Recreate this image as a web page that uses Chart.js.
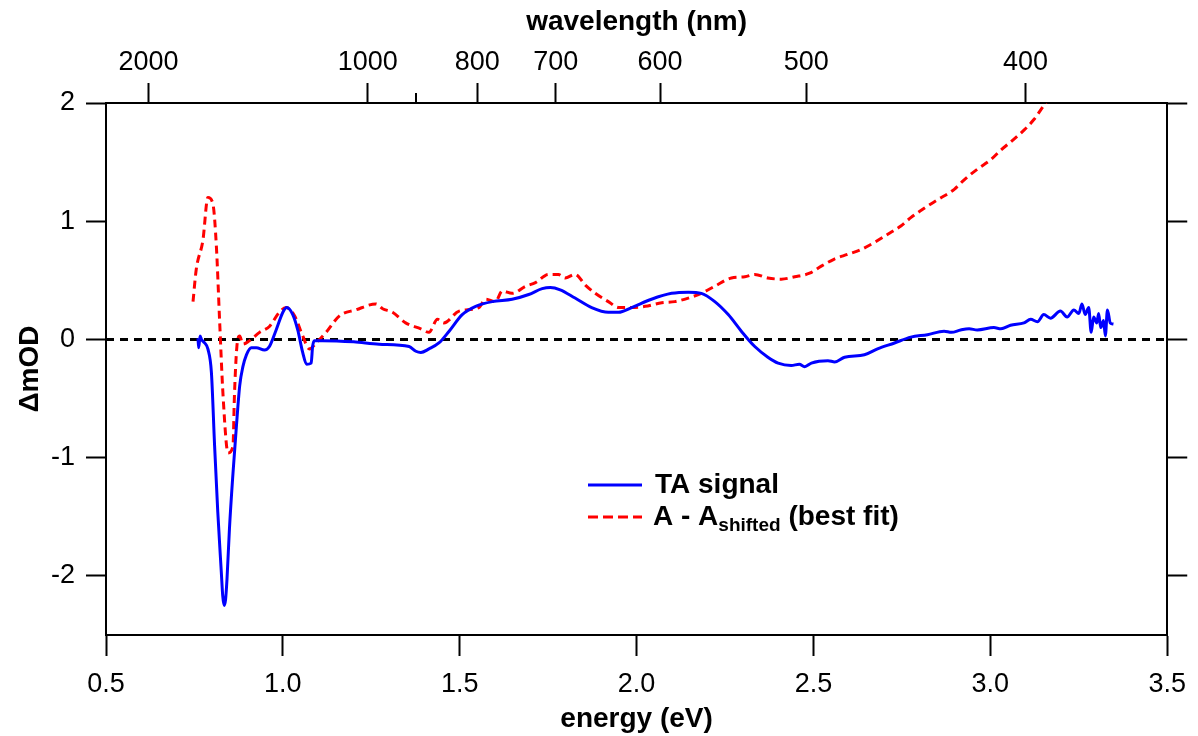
<!DOCTYPE html>
<html>
<head>
<meta charset="utf-8">
<script src="https://cdn.jsdelivr.net/npm/chart.js@4.4.0/dist/chart.umd.min.js"></script>
<style>
  html, body { margin: 0; padding: 0; background: #ffffff; }
  #chart { display: block; }
</style>
</head>
<body>
<canvas id="chart" width="1198" height="736"></canvas>
<script>
// TA signal (blue, solid)
const taEnergy = [0.760, 0.762, 0.766, 0.770, 0.779, 0.788, 0.798, 0.807, 0.816, 0.826, 0.830, 0.834, 0.838, 0.842, 0.849, 0.859, 0.868,
    0.878, 0.887, 0.897, 0.911, 0.925, 0.948, 0.962, 0.981, 1.000, 1.011, 1.028, 1.042, 1.056, 1.067, 1.080,
    1.084, 1.089, 1.112, 1.200, 1.272, 1.357, 1.376, 1.390, 1.413, 1.441, 1.470, 1.507, 1.545, 1.592, 1.648,
    1.695, 1.733, 1.756, 1.784, 1.826, 1.873, 1.920, 1.949, 1.986, 2.042, 2.099, 2.146, 2.183, 2.221, 2.259,
    2.296, 2.334, 2.371, 2.400, 2.437, 2.460, 2.475, 2.494, 2.541, 2.560, 2.588, 2.644, 2.681, 2.729, 2.775,
    2.822, 2.869, 2.890, 2.916, 2.940, 2.963, 3.010, 3.030, 3.057, 3.095, 3.114, 3.133, 3.151, 3.170, 3.198,
    3.217, 3.236, 3.250, 3.259, 3.268, 3.278, 3.285, 3.292, 3.301, 3.306, 3.312, 3.320, 3.325, 3.331, 3.339,
    3.348];
const taSignal = [0.01, -0.07, 0.03, 0.00, -0.03, -0.08, -0.28, -0.90, -1.46, -1.97, -2.17, -2.25, -2.20, -2.03, -1.60, -1.13, -0.76,
    -0.39, -0.23, -0.13, -0.07, -0.07, -0.09, -0.06, 0.08, 0.23, 0.27, 0.21, 0.08, -0.11, -0.21, -0.20,
    -0.06, -0.01, -0.01, -0.02, -0.04, -0.06, -0.10, -0.11, -0.08, -0.03, 0.07, 0.21, 0.28, 0.32, 0.34,
    0.38, 0.43, 0.44, 0.42, 0.35, 0.27, 0.23, 0.23, 0.27, 0.34, 0.39, 0.40, 0.39, 0.32, 0.21,
    0.07, -0.06, -0.15, -0.20, -0.22, -0.21, -0.23, -0.20, -0.18, -0.19, -0.15, -0.13, -0.08, -0.03, 0.02,
    0.04, 0.07, 0.06, 0.08, 0.09, 0.08, 0.10, 0.09, 0.12, 0.14, 0.17, 0.15, 0.21, 0.18, 0.24,
    0.19, 0.25, 0.22, 0.30, 0.21, 0.27, 0.06, 0.19, 0.14, 0.22, 0.10, 0.16, 0.03, 0.25, 0.14,
    0.13];

// A - A_shifted best fit (red, dashed)
const fitEnergy = [0.746, 0.755, 0.774, 0.788, 0.802, 0.812, 0.821, 0.831, 0.845, 0.859, 0.863, 0.870, 0.878, 0.887, 0.906,
    0.934, 0.962, 0.990, 1.009, 1.033, 1.056, 1.075, 1.094, 1.122, 1.160, 1.206, 1.263, 1.282, 1.310, 1.347,
    1.390, 1.413, 1.437, 1.455, 1.498, 1.554, 1.573, 1.601, 1.620, 1.648, 1.686, 1.714, 1.751, 1.779, 1.798,
    1.826, 1.855, 1.883, 1.920, 1.949, 1.986, 2.024, 2.071, 2.108, 2.146, 2.183, 2.221, 2.268, 2.306, 2.334,
    2.371, 2.409, 2.447, 2.489, 2.522, 2.559, 2.597, 2.634, 2.672, 2.710, 2.747, 2.775, 2.813, 2.850, 2.898,
    2.926, 2.963, 3.001, 3.029, 3.057, 3.095, 3.123, 3.142, 3.156, 3.170];
const fitSignal = [0.32, 0.59, 0.84, 1.20, 1.15, 0.79, 0.17, -0.48, -0.96, -0.90, -0.48, -0.06, 0.03, -0.04, -0.01,
    0.06, 0.11, 0.23, 0.27, 0.20, 0.03, -0.08, -0.03, 0.06, 0.20, 0.25, 0.30, 0.26, 0.23, 0.14,
    0.09, 0.06, 0.17, 0.14, 0.24, 0.27, 0.34, 0.32, 0.41, 0.39, 0.45, 0.48, 0.55, 0.55, 0.52,
    0.55, 0.46, 0.39, 0.32, 0.27, 0.27, 0.28, 0.31, 0.32, 0.35, 0.39, 0.45, 0.52, 0.53, 0.55,
    0.52, 0.51, 0.53, 0.56, 0.62, 0.68, 0.72, 0.76, 0.82, 0.89, 0.96, 1.03, 1.11, 1.18, 1.27,
    1.35, 1.44, 1.52, 1.60, 1.67, 1.77, 1.86, 1.94, 2.00, 2.08];

// zero reference line
const zeroEnergy = [0.5, 3.5];
const zeroSignal = [0, 0];

// axis ticks
const energyTicks = [0.5, 1.0, 1.5, 2.0, 2.5, 3.0, 3.5];
const signalTicks = [-2, -1, 0, 1, 2];
const wavelengthTicks = [2000, 1000, 800, 700, 600, 500, 400];
const wavelengthMinor = [900];

const legendLabels = ['TA signal', 'A - A', 'shifted', ' (best fit)'];

const HC = 1239.84; // eV*nm
const FONT = '"Liberation Sans", Arial, Helvetica, sans-serif';

function toPoints(xs, ys) {
    return xs.map((x, i) => ({ x: x, y: ys[i] }));
}

const tickFont = { family: FONT, size: 27 };
const titleFont = { family: FONT, size: 28, weight: 'bold' };

function axisGrid(len) {
    return {
        drawOnChartArea: false,
        drawTicks: true,
        tickLength: len,
        tickWidth: 2,
        tickColor: '#000',
        color: '#000'
    };
}
const axisBorder = { display: true, color: '#000', width: 2 };

// minor tick on the wavelength axis + custom legend
const extrasPlugin = {
    id: 'extras',
    afterDraw(chart) {
        const ctx = chart.ctx;
        const top = chart.scales.xTop;
        ctx.save();
        ctx.strokeStyle = '#000';
        ctx.lineWidth = 2;
        wavelengthMinor.forEach(w => {
            const px = Math.round(top.getPixelForValue(HC / w));
            ctx.beginPath();
            ctx.moveTo(px, top.bottom);
            ctx.lineTo(px, top.bottom - 10);
            ctx.stroke();
        });

        // legend
        const lx = 588, ly1 = 485, ly2 = 517;
        ctx.lineWidth = 3;
        ctx.strokeStyle = '#0000ff';
        ctx.beginPath();
        ctx.moveTo(lx, ly1);
        ctx.lineTo(lx + 54, ly1);
        ctx.stroke();
        ctx.strokeStyle = '#ff0000';
        ctx.setLineDash([10, 5]);
        ctx.beginPath();
        ctx.moveTo(lx, ly2);
        ctx.lineTo(lx + 54, ly2);
        ctx.stroke();
        ctx.setLineDash([]);

        ctx.fillStyle = '#000';
        ctx.textBaseline = 'middle';
        ctx.textAlign = 'left';
        ctx.font = 'bold 28px ' + FONT;
        ctx.fillText(legendLabels[0], 655, ly1);
        let tx = 653;
        ctx.fillText(legendLabels[1], tx, ly2);
        tx += ctx.measureText(legendLabels[1]).width;
        ctx.font = 'bold 19px ' + FONT;
        ctx.fillText(legendLabels[2], tx, ly2 + 9);
        tx += ctx.measureText(legendLabels[2]).width;
        ctx.font = 'bold 28px ' + FONT;
        ctx.fillText(legendLabels[3], tx, ly2);
        ctx.restore();
    }
};

new Chart(document.getElementById('chart'), {
    type: 'line',
    data: {
        datasets: [
            {
                label: 'TA signal',
                data: toPoints(taEnergy, taSignal),
                borderColor: '#0000ff',
                borderWidth: 3,
                pointRadius: 0,
                cubicInterpolationMode: 'monotone',
                order: 0
            },
            {
                label: 'A - Ashifted (best fit)',
                data: toPoints(fitEnergy, fitSignal),
                borderColor: '#ff0000',
                borderWidth: 3,
                borderDash: [8, 5],
                pointRadius: 0,
                cubicInterpolationMode: 'monotone',
                order: 1
            },
            {
                label: 'zero',
                data: toPoints(zeroEnergy, zeroSignal),
                borderColor: '#000',
                borderWidth: 3,
                borderDash: [8, 6],
                pointRadius: 0,
                order: 2
            }
        ]
    },
    options: {
        responsive: false,
        devicePixelRatio: 1,
        animation: false,
        layout: { padding: 0 },
        plugins: {
            legend: { display: false },
            tooltip: { enabled: false }
        },
        scales: {
            x: {
                type: 'linear',
                position: 'bottom',
                min: 0.5,
                max: 3.5,
                afterBuildTicks: s => { s.ticks = energyTicks.map(v => ({ value: v })); },
                afterFit: s => { s.height = 101; },
                ticks: {
                    font: tickFont, color: '#000', padding: 12, maxRotation: 0,
                    callback: v => v.toFixed(1)
                },
                grid: axisGrid(21),
                border: axisBorder,
                title: { display: true, text: 'energy (eV)', font: titleFont, color: '#000', padding: { top: 0, bottom: 0 } }
            },
            xTop: {
                type: 'linear',
                position: 'top',
                min: 0.5,
                max: 3.5,
                afterBuildTicks: s => { s.ticks = wavelengthTicks.map(w => ({ value: HC / w })); },
                afterFit: s => { s.height = 103; },
                ticks: {
                    font: tickFont, color: '#000', padding: 4, maxRotation: 0, autoSkip: false,
                    callback: v => String(Math.round(HC / v))
                },
                grid: axisGrid(20),
                border: axisBorder,
                title: { display: true, text: 'wavelength (nm)', font: titleFont, color: '#000', padding: { top: 5, bottom: 0 } }
            },
            y: {
                type: 'linear',
                position: 'left',
                min: -2.5,
                max: 2,
                afterBuildTicks: s => { s.ticks = signalTicks.map(v => ({ value: v })); },
                afterFit: s => { s.width = 106; },
                ticks: { font: tickFont, color: '#000', padding: 11, callback: v => String(v) },
                grid: axisGrid(20),
                border: axisBorder,
                title: { display: true, text: '\u0394mOD', font: titleFont, color: '#000', padding: { top: 13, bottom: 0 } }
            },
            yRight: {
                type: 'linear',
                position: 'right',
                min: -2.5,
                max: 2,
                afterBuildTicks: s => { s.ticks = signalTicks.map(v => ({ value: v })); },
                afterFit: s => { s.width = 28; },
                ticks: { display: false },
                grid: axisGrid(20),
                border: axisBorder
            }
        }
    },
    plugins: [extrasPlugin]
});
</script>
</body>
</html>
